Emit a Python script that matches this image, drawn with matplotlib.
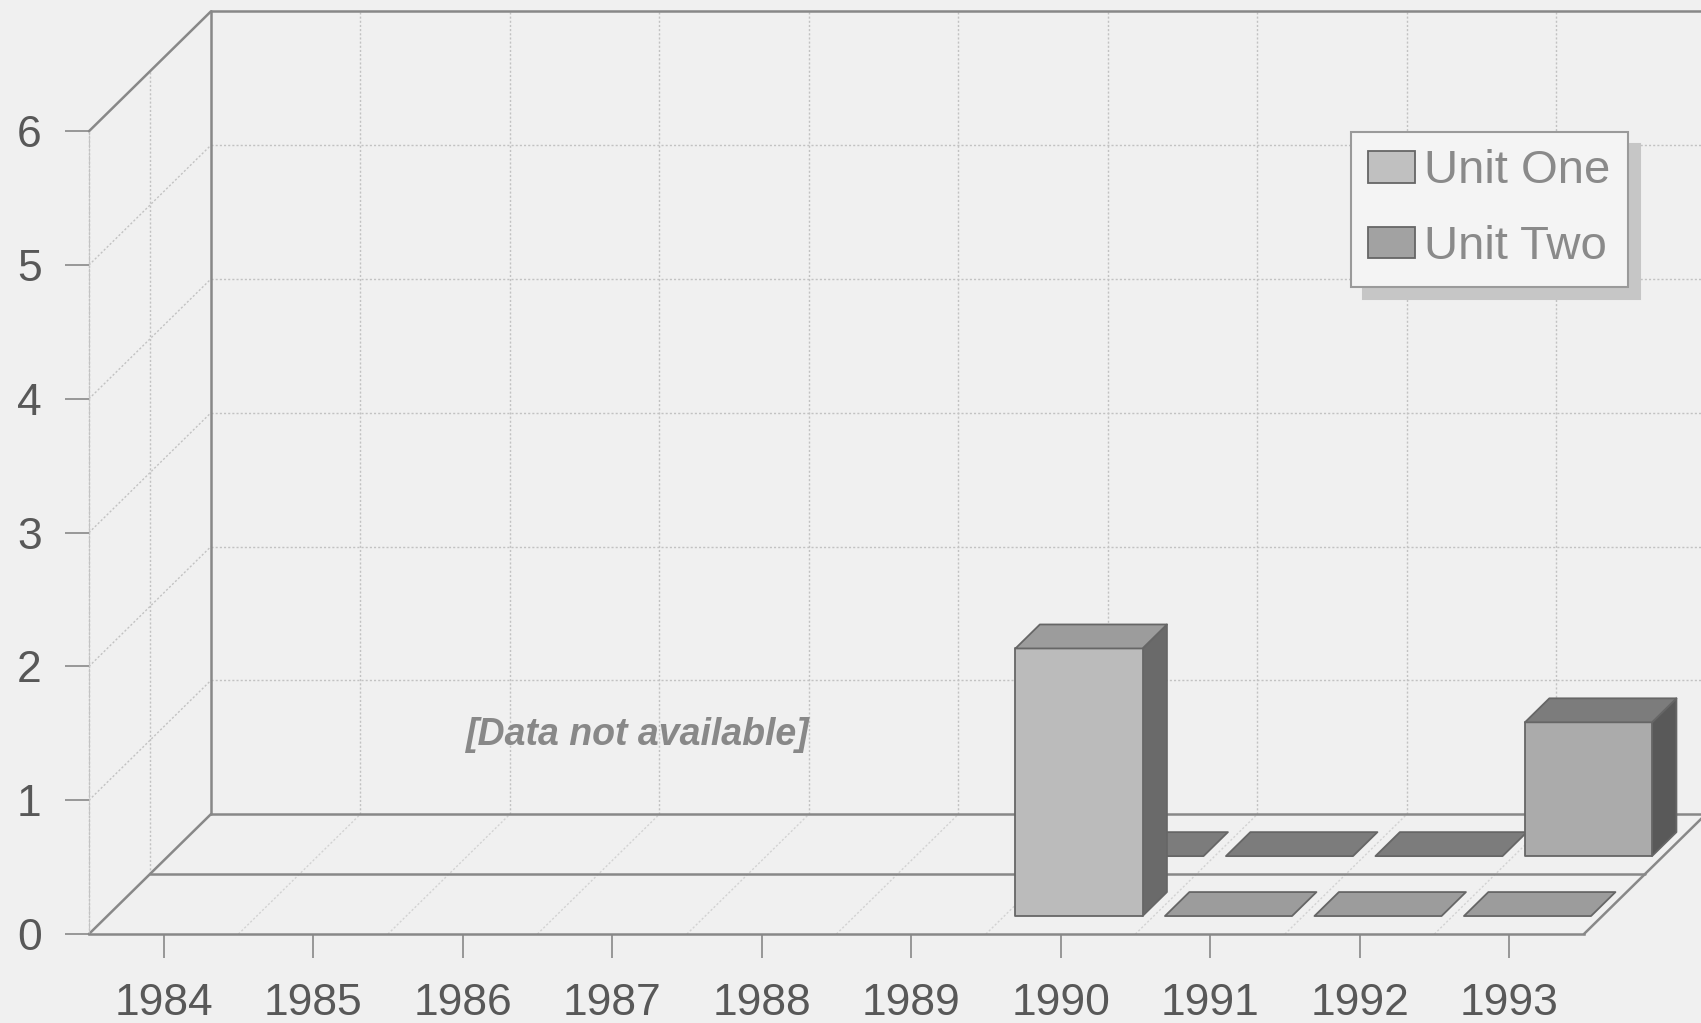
import numpy as np
import matplotlib
matplotlib.use("Agg")
import matplotlib.pyplot as plt
from matplotlib.patches import Polygon, Patch

# ---- data -------------------------------------------------------------
years = ["1984", "1985", "1986", "1987", "1988",
         "1989", "1990", "1991", "1992", "1993"]
unit_one = [np.nan, np.nan, np.nan, np.nan, np.nan, np.nan, 2.0, 0.0, 0.0, 0.0]
unit_two = [np.nan, np.nan, np.nan, np.nan, np.nan, np.nan, 0.0, 0.0, 0.0, 1.0]
series_names = ["Unit One", "Unit Two"]
value_ticks = [0, 1, 2, 3, 4, 5, 6]
note_text = "[Data not available]"

# ---- styling ----------------------------------------------------------
BG = "#f0f0f0"
SOLID = "#888888"
DOTTED = "#c2c2c2"
TEXT = "#585858"
# (front, top, side) shades per series
SHADES = {
    0: ("#bbbbbb", "#9c9c9c", "#6a6a6a"),
    1: ("#ababab", "#7c7c7c", "#595959"),
}
SWATCH = {0: "#c0c0c0", 1: "#a2a2a2"}
EDGE = "#666666"

# oblique projection: one depth row shifts a point by (DX, DY) data units
DX, DY = 0.408, 0.448
N_ROWS = 2


def proj(x, v, d):
    return (x + d * DX, v + d * DY)


def seg(ax, p0, p1, **kw):
    (x0, y0), (x1, y1) = proj(*p0), proj(*p1)
    ax.plot([x0, x1], [y0, y1], **kw)


plt.rcParams["font.family"] = ["Liberation Sans", "DejaVu Sans"]

fig = plt.figure(figsize=(17.01, 10.23), dpi=100, facecolor=BG)
ax = fig.add_axes([0, 0, 1, 1])
ax.set_facecolor(BG)
n_cat = len(years)
ax.set_xlim(-0.595, 10.783)
ax.set_ylim(-0.665, 6.981)
top_v = value_ticks[-1]

dotted = dict(color=DOTTED, lw=1.0, ls=(0, (1.5, 1.5)), zorder=1)
solid = dict(color=SOLID, lw=1.8, solid_capstyle="round", zorder=2)

# back wall grid
for v in value_ticks[1:-1]:
    seg(ax, (0, v, N_ROWS), (n_cat + 1, v, N_ROWS), **dotted)
for i in range(1, n_cat + 1):
    seg(ax, (i, 0, N_ROWS), (i, top_v, N_ROWS), **dotted)
# left wall grid
for v in value_ticks[1:-1]:
    seg(ax, (0, v, 0), (0, v, N_ROWS), **dotted)
seg(ax, (0, 0, 1), (0, top_v, 1), **dotted)
seg(ax, (0, 0, 0), (0, top_v, 0), **dotted)
# floor grid
for i in range(1, n_cat):
    seg(ax, (i, 0, 0), (i, 0, N_ROWS), **dict(dotted, color="#d2d2d2"))

# frame edges
seg(ax, (0, 0, N_ROWS), (0, top_v, N_ROWS), **solid)
seg(ax, (0, top_v, N_ROWS), (n_cat + 1, top_v, N_ROWS), **solid)
seg(ax, (0, top_v, 0), (0, top_v, N_ROWS), **solid)
seg(ax, (0, 0, N_ROWS), (n_cat + 1, 0, N_ROWS), **solid)
seg(ax, (0, 0, 1), (n_cat, 0, 1), **solid)
seg(ax, (0, 0, 0), (0, 0, N_ROWS), **solid)
seg(ax, (n_cat, 0, 0), (n_cat, 0, N_ROWS), **solid)


def box(ax, i, v, row):
    front_c, top_c, side_c = SHADES[row]
    x0, x1 = i + 0.075, i + 0.925
    d0, d1 = row + 0.3, row + 0.7
    z = 5 + (N_ROWS - row) * 20 + i
    kw = dict(edgecolor=EDGE, lw=1.3, joinstyle="round", zorder=z)
    top = [proj(x0, v, d0), proj(x1, v, d0), proj(x1, v, d1), proj(x0, v, d1)]
    if v > 0:
        front = [proj(x0, 0, d0), proj(x1, 0, d0), proj(x1, v, d0), proj(x0, v, d0)]
        side = [proj(x1, 0, d0), proj(x1, 0, d1), proj(x1, v, d1), proj(x1, v, d0)]
        ax.add_patch(Polygon(side, closed=True, facecolor=side_c, **kw))
        ax.add_patch(Polygon(front, closed=True, facecolor=front_c, **kw))
    ax.add_patch(Polygon(top, closed=True, facecolor=top_c, **kw))


# back row first, then the front row, left to right
for row, vals in ((1, unit_two), (0, unit_one)):
    for i, v in enumerate(vals):
        if np.isnan(v):
            continue
        box(ax, i, v, row)

# axes: value axis on the front-left edge, categories along the front edge
for s in ("top", "right"):
    ax.spines[s].set_visible(False)
ax.spines["left"].set_position(("data", 0))
ax.spines["left"].set_bounds(0, top_v)
ax.spines["left"].set_color(DOTTED)
ax.spines["left"].set_linestyle((0, (1.5, 1.5)))
ax.spines["bottom"].set_position(("data", 0))
ax.spines["bottom"].set_bounds(0, n_cat)
ax.spines["bottom"].set_color(SOLID)
ax.spines["bottom"].set_linewidth(1.8)

ax.set_yticks(value_ticks)
ax.set_yticklabels([str(t) for t in value_ticks])
ax.set_xticks(np.arange(n_cat) + 0.5)
ax.set_xticklabels(years)
ax.tick_params(axis="y", direction="out", length=17, width=1.2, color=SOLID,
               pad=17, labelsize=32, labelcolor=TEXT)
ax.tick_params(axis="x", direction="out", length=17, width=1.2, color=SOLID,
               pad=18, labelsize=32, labelcolor=TEXT)

ax.text(3.67, 1.49, note_text, ha="center", va="center", fontsize=27,
        fontweight="bold", fontstyle="italic", color="#888888",
        family=["Liberation Sans Narrow", "Liberation Sans", "DejaVu Sans"],
        zorder=3)

handles = [Patch(facecolor=SWATCH[0], edgecolor=EDGE, lw=1.3),
           Patch(facecolor=SWATCH[1], edgecolor=EDGE, lw=1.3)]
leg = ax.legend(handles, series_names, loc="upper left",
                bbox_to_anchor=(0.794, 0.871), fontsize=34,
                frameon=True, fancybox=False, framealpha=1,
                facecolor="#f4f4f4", edgecolor="#9a9a9a",
                shadow={"ox": 9, "oy": -9, "color": "#c6c6c6", "alpha": 1},
                handlelength=1.0, handleheight=0.66, handletextpad=0.18,
                labelspacing=0.67, borderpad=0.37, borderaxespad=0)
leg.get_frame().set_linewidth(1.5)
for t in leg.get_texts():
    t.set_color("#8a8a8a")
leg.set_zorder(200)

fig.savefig("out.png", dpi=100, facecolor=BG)
